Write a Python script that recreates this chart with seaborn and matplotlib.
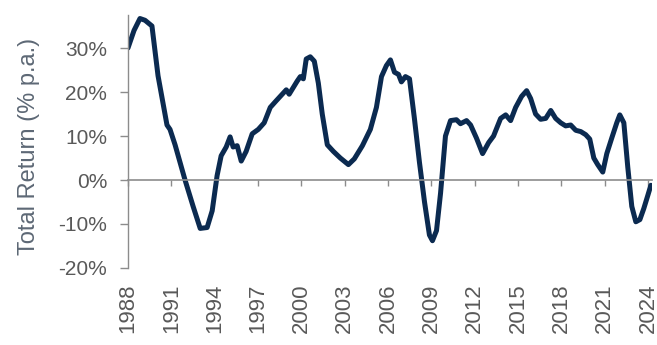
import matplotlib
matplotlib.use("Agg")
import matplotlib.pyplot as plt
import seaborn as sns
import pandas as pd

years = [1988.0, 1988.42, 1988.83, 1989.18, 1989.66, 1990.08, 1990.70, 1990.91, 1991.26, 1991.95,
         1992.51, 1993.0, 1993.48, 1993.83, 1994.17, 1994.45, 1994.80, 1995.07, 1995.28, 1995.56,
         1995.84, 1996.18, 1996.60, 1997.02, 1997.43, 1997.85, 1998.26, 1998.68, 1998.96, 1999.16,
         1999.44, 1999.72, 1999.93, 2000.14, 2000.34, 2000.62, 2000.90, 2001.18, 2001.45, 2001.80,
         2002.22, 2002.70, 2003.26, 2003.67, 2004.23, 2004.78, 2005.20, 2005.55, 2005.89, 2006.17,
         2006.45, 2006.73, 2006.93, 2007.21, 2007.49, 2007.83, 2008.18, 2008.53, 2008.87, 2009.08,
         2009.36, 2009.64, 2009.98, 2010.33, 2010.74, 2011.02, 2011.44, 2011.72, 2012.13, 2012.55,
         2012.97, 2013.31, 2013.80, 2014.15, 2014.49, 2014.84, 2015.25, 2015.60, 2015.88, 2016.22,
         2016.57, 2016.92, 2017.27, 2017.61, 2017.96, 2018.30, 2018.65, 2019.00, 2019.35, 2019.69,
         2019.97, 2020.25, 2020.52, 2020.87, 2021.15, 2021.49, 2021.84, 2022.05, 2022.33, 2022.60,
         2022.88, 2023.16, 2023.44, 2023.71, 2023.99, 2024.20]
returns = [30.0, 34.0, 36.7, 36.3, 35.0, 23.7, 12.5, 11.5, 8.0, 0.0,
           -6.0, -11.0, -10.8, -7.0, 1.0, 5.5, 7.5, 9.8, 7.5, 7.8,
           4.3, 6.5, 10.5, 11.5, 13.0, 16.5, 18.0, 19.5, 20.5, 19.5,
           21.0, 22.5, 23.5, 23.0, 27.5, 28.0, 27.0, 22.0, 15.0, 8.0,
           6.5, 5.0, 3.5, 4.8, 7.8, 11.5, 16.5, 23.5, 26.0, 27.3,
           24.5, 24.0, 22.3, 23.5, 23.0, 14.0, 4.0, -5.0, -12.5, -13.8,
           -11.5, -3.0, 10.0, 13.5, 13.7, 12.8, 13.5, 12.5, 9.5, 6.0,
           8.5, 10.0, 14.0, 14.8, 13.5, 16.5, 19.0, 20.3, 18.5, 15.0,
           13.8, 14.0, 15.8, 14.0, 13.0, 12.3, 12.5, 11.3, 11.0, 10.3,
           9.3, 5.0, 3.5, 1.8, 6.0, 9.5, 13.0, 14.8, 13.0, 3.0,
           -6.0, -9.5, -9.0, -6.5, -3.5, -1.2]

x_ticks = list(range(1988, 2025, 3))
x_tick_labels = [str(y) for y in x_ticks]
y_ticks = [-20, -10, 0, 10, 20, 30]
y_tick_labels = [f"{v}%" for v in y_ticks]

df = pd.DataFrame({"Year": years, "Return": returns})

sns.set_style("white")
plt.rcParams["font.family"] = ["Liberation Sans", "DejaVu Sans"]

axis_grey = "#8c8c8c"
text_grey = "#595959"
label_col = "#5d6875"
line_col = "#0b2a50"

fig = plt.figure(figsize=(6.57, 3.45), dpi=100)
ax = fig.add_axes([0.1948, 0.2232, 0.7976, 0.7333])

sns.lineplot(data=df, x="Year", y="Return", ax=ax, color=line_col,
             linewidth=3.6, estimator=None, sort=False,
             solid_joinstyle="round", solid_capstyle="round")

ax.set_xlim(1988, 2024.28)
ax.set_ylim(-20, 37.5)

for s in ["top", "right"]:
    ax.spines[s].set_visible(False)
ax.spines["left"].set_color(axis_grey)
ax.spines["left"].set_linewidth(1.0)
ax.spines["bottom"].set_position(("data", 0))
ax.spines["bottom"].set_color(axis_grey)
ax.spines["bottom"].set_linewidth(1.2)

ax.set_xticks(x_ticks)
ax.tick_params(axis="x", bottom=True, labelbottom=False, direction="out",
               length=4, width=1.0, color=axis_grey)
ax.set_yticks(y_ticks, y_tick_labels)
ax.tick_params(axis="y", left=True, direction="out", length=6, width=1.0,
               color=axis_grey, labelsize=15, labelcolor=text_grey, pad=9)

secax = ax.secondary_xaxis("bottom")
secax.set_xticks(x_ticks, x_tick_labels)
secax.tick_params(axis="x", length=0, pad=11, labelsize=16,
                  labelcolor=text_grey, labelrotation=90)
secax.spines["bottom"].set_visible(False)

ax.set_xlabel("")
ax.set_ylabel("Total Return (% p.a.)", fontsize=17, color=label_col)
ax.yaxis.set_label_coords(-0.168, 0.48)

fig.savefig("out.png", dpi=100)
